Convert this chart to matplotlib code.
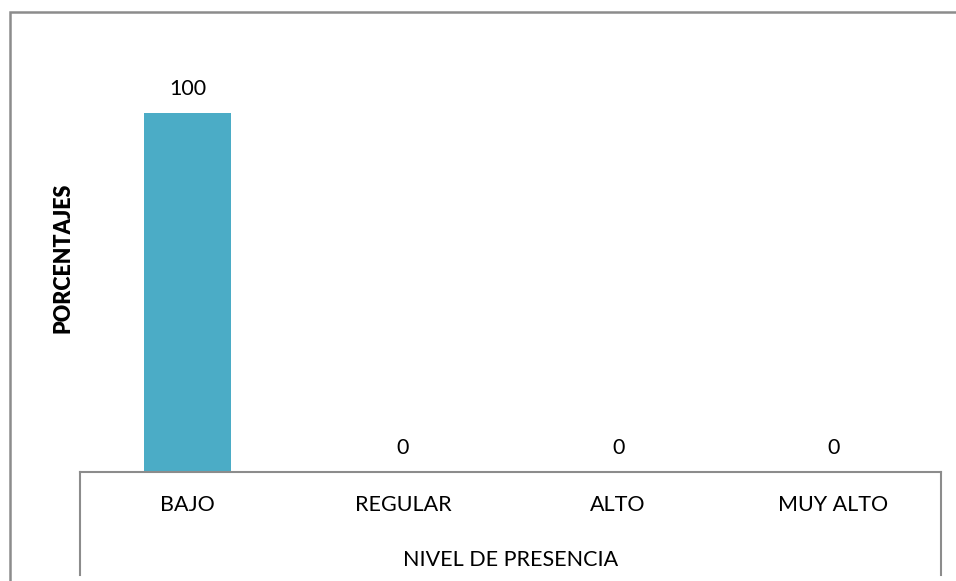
import matplotlib
matplotlib.use("Agg")
import matplotlib.pyplot as plt
from matplotlib.lines import Line2D
from matplotlib.patches import Rectangle

categories = ["BAJO", "REGULAR", "ALTO", "MUY ALTO"]
values = [100, 0, 0, 0]
x_title = "NIVEL DE PRESENCIA"
y_title = "PORCENTAJES"

plt.rcParams["font.family"] = ["Lato", "DejaVu Sans"]
FS = 15.5

W, H = 956, 581
fig = plt.figure(figsize=(W / 100, H / 100), dpi=100)

def fx(px):
    return px / W

def fy(py):
    return 1 - py / H

# plot area: x 80..941 px, baseline at y=472 px
left, right, base, top = 80, 941, 472, 42
ax = fig.add_axes([fx(left), fy(base), fx(right) - fx(left), fy(top) - fy(base)])
ax.set_xlim(-0.5, len(categories) - 0.5)
ax.set_ylim(0, 100 * (base - top) / (base - 113))

xs = list(range(len(categories)))
ax.bar(xs, values, width=0.405, color="#4BACC6")
for x, v in zip(xs, values):
    ax.annotate(f"{v}", (x, v), xytext=(0, 24 * 0.72), textcoords="offset points",
                ha="center", va="center", fontsize=FS, color="black")

for s in ["top", "right", "left"]:
    ax.spines[s].set_visible(False)
ax.spines["bottom"].set_color("#8c8c8c")
ax.spines["bottom"].set_linewidth(1.5)
ax.set_xticks([])
ax.set_yticks([])

# category labels below the axis
cat_y = -(505 - base) / (base - top)
for x, c in zip(xs, categories):
    ax.text(x, cat_y, c, transform=ax.get_xaxis_transform(), ha="center", va="center",
            fontsize=FS, color="black")

ax.text(0.5, -(560 - base) / (base - top), x_title, transform=ax.transAxes,
        ha="center", va="center", fontsize=FS, color="black")

# vertical bounds of the category table
for px in (left, right):
    fig.add_artist(Line2D([fx(px), fx(px)], [fy(base), fy(575)], color="#8c8c8c", lw=1.5))

fig.text(fx(63), fy(258), y_title, rotation=90, ha="center", va="center",
         fontsize=FS, fontweight="heavy", color="black")

# chart frame
fig.add_artist(Rectangle((fx(10), -0.1), 1.2, fy(12) + 0.1, fill=False,
                         edgecolor="#8c8c8c", lw=1.8, transform=fig.transFigure))

fig.savefig("out.png", dpi=100, facecolor="white")
